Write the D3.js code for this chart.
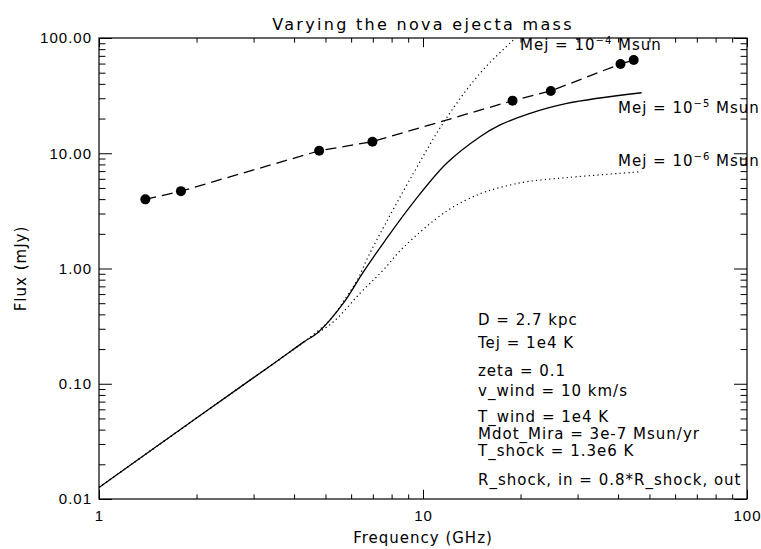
<!DOCTYPE html>
<html lang="en">
<head>
    <meta charset="UTF-8">
    <title>Varying the nova ejecta mass</title>
    <script src="https://d3js.org/d3.v7.min.js"></script>
    <style>
        body { margin: 0; background: #ffffff; }
        svg { display: block; font-family: "DejaVu Sans", sans-serif; }
        .tick text { font-size: 15px; fill: #000; letter-spacing: 1px; }
        .tick line { stroke: #000; }
        .lbl { font-size: 15px; fill: #000; letter-spacing: 1px; }
    </style>
</head>
<body>
<svg width="761" height="549"></svg>
<script>
    // Observed points (GHz, mJy)
    const obsFreq = [1.39, 1.79, 4.78, 6.98, 18.9, 24.8, 40.7, 44.7];
    const obsFlux = [3.98, 4.69, 10.5, 12.6, 28.6, 34.7, 59.5, 64.4];

    // Optically thick part shared by all models
    const thickFreq = [1, 2, 3, 3.62, 4.3];
    const thickFlux = [0.0126, 0.0504, 0.113, 0.164, 0.232];

    // Mej = 1e-5 (solid)
    const m5Freq = [4.75, 5.68, 6.54, 7.63, 9.34, 11.83, 15.0, 17.3, 21.4, 27.8, 47.3];
    const m5Flux = [0.28, 0.50, 0.93, 1.74, 3.75, 8.18, 13.9, 17.6, 22.2, 27.1, 33.5];

    // Mej = 1e-4 (dotted, runs off the top)
    const m4Freq = [5.16, 5.81, 6.31, 6.70, 7.20, 9.34, 11.7, 15.0, 19.0, 21.0];
    const m4Flux = [0.357, 0.569, 0.822, 1.19, 1.77, 6.70, 19.4, 49.4, 96, 123];

    // Mej = 1e-6 (dotted)
    const m6Freq = [5.29, 6.39, 7.54, 8.69, 11.83, 15.0, 17.3, 20.9, 27.8, 47.3];
    const m6Flux = [0.345, 0.609, 0.970, 1.52, 3.15, 4.45, 5.05, 5.66, 6.15, 6.92];

    const yTickValues = [100, 10, 1, 0.1, 0.01];
    const yTickLabels = ["100.00", "10.00", "1.00", "0.10", "0.01"];
    const xTickValues = [1, 10, 100];
    const xTickLabels = ["1", "10", "100"];

    const params = [
        ["D = 2.7 kpc", 325],
        ["Tej = 1e4 K", 348],
        ["zeta = 0.1", 376],
        ["v_wind = 10 km/s", 396],
        ["T_wind = 1e4 K", 422],
        ["Mdot_Mira = 3e-7 Msun/yr", 439],
        ["T_shock = 1.3e6 K", 456],
        ["R_shock, in = 0.8*R_shock, out", 485]
    ];

    const margin = {top: 38, right: 14, bottom: 50, left: 99},
          width = 761 - margin.left - margin.right,
          height = 549 - margin.top - margin.bottom;

    const svg = d3.select("svg");
    const g = svg.append("g").attr("transform", `translate(${margin.left},${margin.top})`);

    const x = d3.scaleLog().domain([1, 100]).range([0, width]);
    const y = d3.scaleLog().domain([0.01, 100]).range([height, 0]);

    const xLen = 0.02 * height, yLen = 0.02 * width;
    const minorVals = (lo, hi) => {
        const out = [];
        for (let d = lo; d < hi; d *= 10)
            for (let k = 2; k <= 9; k++) out.push(d * k);
        return out;
    };
    const xMinor = minorVals(1, 100), yMinor = minorVals(0.01, 100);

    function axisGroup(axis, tr) {
        const a = g.append("g").attr("transform", tr).call(axis);
        a.select(".domain").remove();
        return a;
    }

    // bottom / top
    axisGroup(d3.axisBottom(x).tickValues(xTickValues).tickSize(-xLen).tickPadding(11)
        .tickFormat((d, i) => xTickLabels[i]), `translate(0,${height})`);
    axisGroup(d3.axisBottom(x).tickValues(xMinor).tickSize(-xLen / 2).tickFormat(""), `translate(0,${height})`);
    axisGroup(d3.axisTop(x).tickValues(xTickValues).tickSize(-xLen).tickFormat(""), "translate(0,0)");
    axisGroup(d3.axisTop(x).tickValues(xMinor).tickSize(-xLen / 2).tickFormat(""), "translate(0,0)");
    // left / right
    axisGroup(d3.axisLeft(y).tickValues(yTickValues).tickSize(-yLen).tickPadding(7)
        .tickFormat((d, i) => yTickLabels[i]), "translate(0,0)");
    axisGroup(d3.axisLeft(y).tickValues(yMinor).tickSize(-yLen / 2).tickFormat(""), "translate(0,0)");
    axisGroup(d3.axisRight(y).tickValues(yTickValues).tickSize(-yLen).tickFormat(""), `translate(${width},0)`);
    axisGroup(d3.axisRight(y).tickValues(yMinor).tickSize(-yLen / 2).tickFormat(""), `translate(${width},0)`);

    g.append("rect").attr("width", width).attr("height", height)
        .attr("fill", "none").attr("stroke", "#000").attr("stroke-width", 1.2);

    g.append("clipPath").attr("id", "clip").append("rect")
        .attr("width", width).attr("height", height);

    const line = d3.line().x(d => x(d[0])).y(d => y(d[1])).curve(d3.curveCatmullRom.alpha(0.5));
    const zipped = (fx, fy) => fx.map((f, i) => [f, fy[i]]);
    const thick = zipped(thickFreq, thickFlux);

    const curves = [
        {pts: thick.concat(zipped(m5Freq, m5Flux)), dash: null, w: 1.3},
        {pts: thick.concat(zipped(m4Freq, m4Flux)), dash: "1.2,3.2", w: 1.2},
        {pts: thick.concat(zipped(m6Freq, m6Flux)), dash: "1.2,3.2", w: 1.2}
    ];
    g.append("g").attr("clip-path", "url(#clip)").selectAll("path")
        .data(curves).enter().append("path")
        .attr("d", d => line(d.pts))
        .attr("fill", "none").attr("stroke", "#000")
        .attr("stroke-width", d => d.w)
        .attr("stroke-dasharray", d => d.dash);

    const obs = zipped(obsFreq, obsFlux);
    g.append("path").attr("d", d3.line().x(d => x(d[0])).y(d => y(d[1]))(obs))
        .attr("fill", "none").attr("stroke", "#000").attr("stroke-width", 1.3)
        .attr("stroke-dasharray", "11,6");
    g.selectAll("circle.obs").data(obs).enter().append("circle")
        .attr("class", "obs")
        .attr("cx", d => x(d[0])).attr("cy", d => y(d[1])).attr("r", 5).attr("fill", "#000");

    // curve labels
    const mejLabels = [["-4", 520, 50], ["-5", 618, 113], ["-6", 618, 166]];
    mejLabels.forEach(([e, lx, ly]) => {
        const t = svg.append("text").attr("class", "lbl").attr("x", lx).attr("y", ly)
            .attr("letter-spacing", 0.6);
        t.append("tspan").text("Mej = 10");
        t.append("tspan").attr("dy", -6).attr("font-size", 10).text(e.replace("-", "\u2212"));
        t.append("tspan").attr("dy", 6).text(" Msun");
    });

    // parameter block
    svg.selectAll("text.par").data(params).enter().append("text")
        .attr("class", "lbl par").attr("x", 478).attr("y", d => d[1])
        .text(d => d[0]);

    // title & axis titles
    svg.append("text").attr("x", margin.left + width / 2).attr("y", 30)
        .attr("text-anchor", "middle").attr("font-size", 16).attr("letter-spacing", 2.3)
        .text("Varying the nova ejecta mass");
    svg.append("text").attr("class", "lbl").attr("x", margin.left + width / 2).attr("y", 543)
        .attr("text-anchor", "middle").attr("letter-spacing", 0.2).text("Frequency (GHz)");
    svg.append("text").attr("class", "lbl").attr("text-anchor", "middle")
        .attr("transform", `translate(26,${margin.top + height / 2}) rotate(-90)`)
        .text("Flux (mJy)");
</script>
</body>
</html>
